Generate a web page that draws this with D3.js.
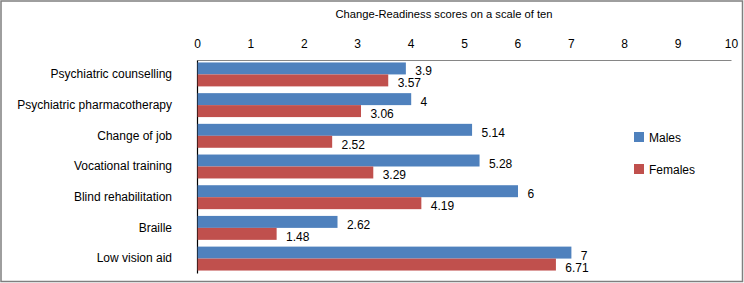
<!DOCTYPE html>
<html>
<head>
<meta charset="utf-8">
<script src="https://cdn.jsdelivr.net/npm/d3@7"></script>
<style>
  body { margin: 0; background: #fff; }
  svg { display: block; font-family: "Liberation Sans", Arial, sans-serif; }
</style>
</head>
<body>
<svg id="drawing_region"></svg>
<script>
const categories = ['Psychiatric counselling', 'Psychiatric pharmacotherapy', 'Change of job',
    'Vocational training', 'Blind rehabilitation', 'Braille', 'Low vision aid'];
const males = [3.9, 4, 5.14, 5.28, 6, 2.62, 7];
const females = [3.57, 3.06, 2.52, 3.29, 4.19, 1.48, 6.71];
const series = ['Males', 'Females'];
const tick_values = [0, 1, 2, 3, 4, 5, 6, 7, 8, 9, 10];
const title = 'Change-Readiness scores on a scale of ten';

const config = {
    width: 744,
    height: 283,
    margin: {top: 60, right: 13, bottom: 10, left: 197},
    colors: ['#4F81BD', '#C0504D']
};

const data = categories.map((c, i) => ({label: c, values: [males[i], females[i]]}));

const svg = d3.select('#drawing_region')
    .attr('width', config.width)
    .attr('height', config.height);

// outer frame
svg.append('rect')
    .attr('x', 1).attr('y', 1)
    .attr('width', config.width - 2.5).attr('height', config.height - 2.5)
    .attr('fill', 'none')
    .attr('stroke', '#7f7f7f')
    .attr('stroke-width', 1.5);

const inner_width = config.width - config.margin.left - config.margin.right;
const inner_height = config.height - config.margin.top - config.margin.bottom;

const chart = svg.append('g')
    .attr('transform', `translate(${config.margin.left}, ${config.margin.top})`);

const xscale = d3.scaleLinear()
    .domain([0, 10])
    .range([0, inner_width]);

const yscale = d3.scaleBand()
    .domain(categories)
    .range([0, inner_height])
    .paddingInner(0.22)
    .paddingOuter(0.08);

const sub = d3.scaleBand()
    .domain(series)
    .range([0, yscale.bandwidth()]);

// top axis
const xaxis = d3.axisTop(xscale)
    .tickValues(tick_values)
    .tickSize(0)
    .tickPadding(12)
    .tickFormat(d3.format('d'));

const xaxis_group = chart.append('g').call(xaxis);
xaxis_group.select('.domain').attr('stroke', '#868686');
xaxis_group.selectAll('text')
    .attr('font-size', 12)
    .attr('fill', '#000')
    .attr('font-family', '"Liberation Sans", Arial, sans-serif');

// left axis (labels only + line)
const yaxis = d3.axisLeft(yscale)
    .tickSize(0)
    .tickPadding(25);

const yaxis_group = chart.append('g').call(yaxis);
yaxis_group.select('.domain').attr('stroke', '#000').attr('stroke-width', 1.2);
yaxis_group.selectAll('text')
    .attr('font-size', 12)
    .attr('fill', '#000')
    .attr('font-family', '"Liberation Sans", Arial, sans-serif');

const groups = chart.selectAll('.group')
    .data(data)
    .join('g')
    .attr('class', 'group')
    .attr('transform', d => `translate(0, ${yscale(d.label)})`);

groups.selectAll('rect')
    .data(d => d.values.map((v, j) => ({key: series[j], value: v, idx: j})))
    .join('rect')
    .attr('x', 0.6)
    .attr('y', d => sub(d.key))
    .attr('width', d => xscale(d.value))
    .attr('height', sub.bandwidth())
    .attr('fill', d => config.colors[d.idx]);

groups.selectAll('.val')
    .data(d => d.values.map((v, j) => ({key: series[j], value: v, idx: j})))
    .join('text')
    .attr('class', 'val')
    .attr('x', d => xscale(d.value) + 10)
    .attr('y', d => sub(d.key) + sub.bandwidth() / 2 + 7)
    .attr('font-size', 12)
    .attr('fill', '#000')
    .text(d => d.value);

// chart title
svg.append('text')
    .attr('x', 444)
    .attr('y', 18)
    .attr('text-anchor', 'middle')
    .attr('font-size', 11.2)
    .attr('fill', '#000')
    .text(title);

// legend
const legend = svg.append('g')
    .attr('transform', 'translate(634, 132)');

const items = legend.selectAll('g')
    .data(series)
    .join('g')
    .attr('transform', (d, i) => `translate(0, ${i * 32})`);

items.append('rect')
    .attr('width', 10)
    .attr('height', 10)
    .attr('fill', (d, i) => config.colors[i]);

items.append('text')
    .attr('x', 15)
    .attr('y', 9.5)
    .attr('font-size', 12)
    .attr('fill', '#000')
    .text(d => d);
</script>
</body>
</html>
